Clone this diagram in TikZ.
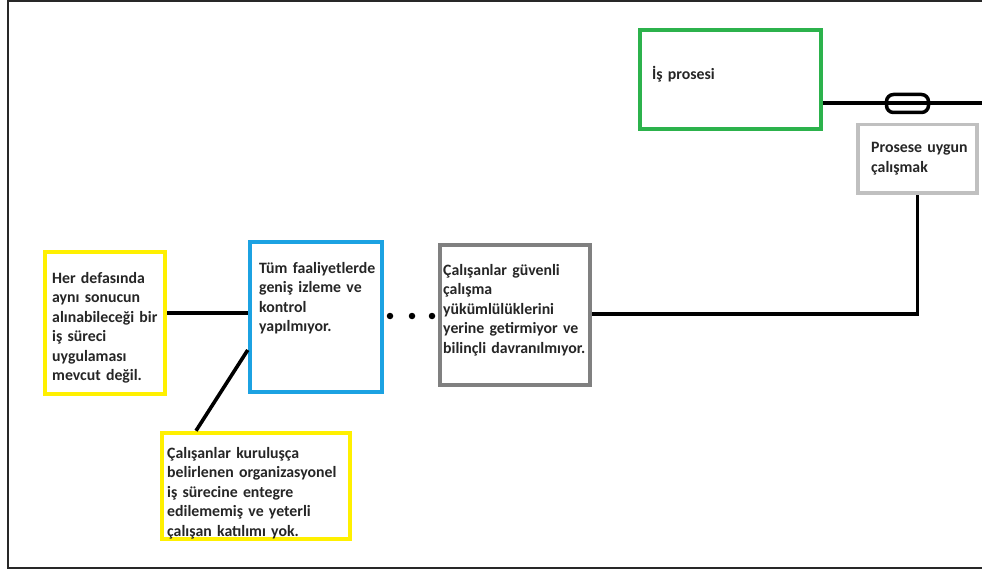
\documentclass[tikz,border=0pt]{standalone}
\usepackage{fontspec}
\setmainfont{Carlito}
\begin{document}
\definecolor{boxgreen}{RGB}{44,178,76}
\definecolor{boxlight}{RGB}{192,192,192}
\definecolor{boxdark}{RGB}{128,128,128}
\definecolor{boxblue}{RGB}{28,162,226}
\definecolor{boxyellow}{RGB}{255,240,0}
\definecolor{framegray}{RGB}{40,40,40}
\begin{tikzpicture}[x=1pt,y=-1pt,
  frame/.style={draw=framegray,line cap=rect},
  box/.style={draw=#1,line width=4.5pt,rectangle,inner sep=0pt,fill=white},
  link/.style={draw=black,line width=3.6pt},
  label/.style={anchor=base west,align=left,inner sep=0pt,text width=200pt,
    font=\bfseries\fontsize{15.8}{19.5}\selectfont,text=black!85},
  dot/.style={circle,fill=black,inner sep=0pt,minimum size=6.5pt}]
\useasboundingbox (0,0) rectangle (982,572);
% outer frame
\draw[frame,line width=1.5pt] (8,1) -- (982,1);
\draw[frame,line width=2.5pt] (8,1) -- (8,568);
\draw[frame,line width=2.5pt] (8,568) -- (982,568);

% boxes
\node[box=boxgreen,minimum width=181pt,minimum height=99pt] (green) at (730.5,79.5) {};
\node[box=boxlight,line width=3.5pt,minimum width=119pt,minimum height=68.5pt] (light) at (917.5,158.75) {};
\node[box=boxdark,minimum width=150pt,minimum height=140pt] (dark) at (515,315) {};
\node[box=boxblue,minimum width=132pt,minimum height=150pt] (blue) at (316,317) {};
\node[box=boxyellow,minimum width=120pt,minimum height=142pt] (ylw) at (105,323) {};
\node[box=boxyellow,minimum width=188pt,minimum height=106pt] (ybot) at (256,486) {};

% connectors
\coordinate (rightend) at (982,103);
\draw[link] ([yshift=-23.5pt]green.east) -- (rightend);
\node[draw=black,line width=3.5pt,rounded corners=7pt,rectangle,inner sep=0pt,
  minimum width=42pt,minimum height=18pt] (fuse) at (907.5,103.5) {};
\draw[link] ([yshift=10pt]ylw.east) -- ([yshift=10pt]ylw.east -| blue.west);
\draw[link] ([yshift=-33pt]blue.west) -- ([xshift=-60pt]ybot.north);
\draw[link] ([yshift=1pt]dark.east) -| (light.south);

% dots between the middle boxes
\node[dot] (d1) at (390,316) {};
\node[dot] (d2) at (412,316) {};
\node[dot] (d3) at (432,316) {};

% texts
\node[label] (tgreen) at (652,80) {İş prosesi};
\node[label,font=\bfseries\fontsize{15.8}{20}\selectfont] (tlight) at (871,153) {Prosese uygun\\çalışmak};
\node[label] (tylw) at (52,283) {Her defasında\\aynı sonucun\\alınabileceği bir\\iş süreci\\uygulaması\\mevcut değil.};
\node[label] (tblue) at (259,273) {Tüm faaliyetlerde\\geniş izleme ve\\kontrol\\yapılmıyor.};
\node[label] (tdark) at (443,275) {Çalışanlar güvenli\\çalışma\\yükümlülüklerini\\yerine getirmiyor ve\\bilinçli davranılmıyor.};
\node[label] (tbot) at (167,458) {Çalışanlar kuruluşça\\belirlenen organizasyonel\\iş sürecine entegre\\edilememiş ve yeterli\\çalışan katılımı yok.};
\end{tikzpicture}
\end{document}
